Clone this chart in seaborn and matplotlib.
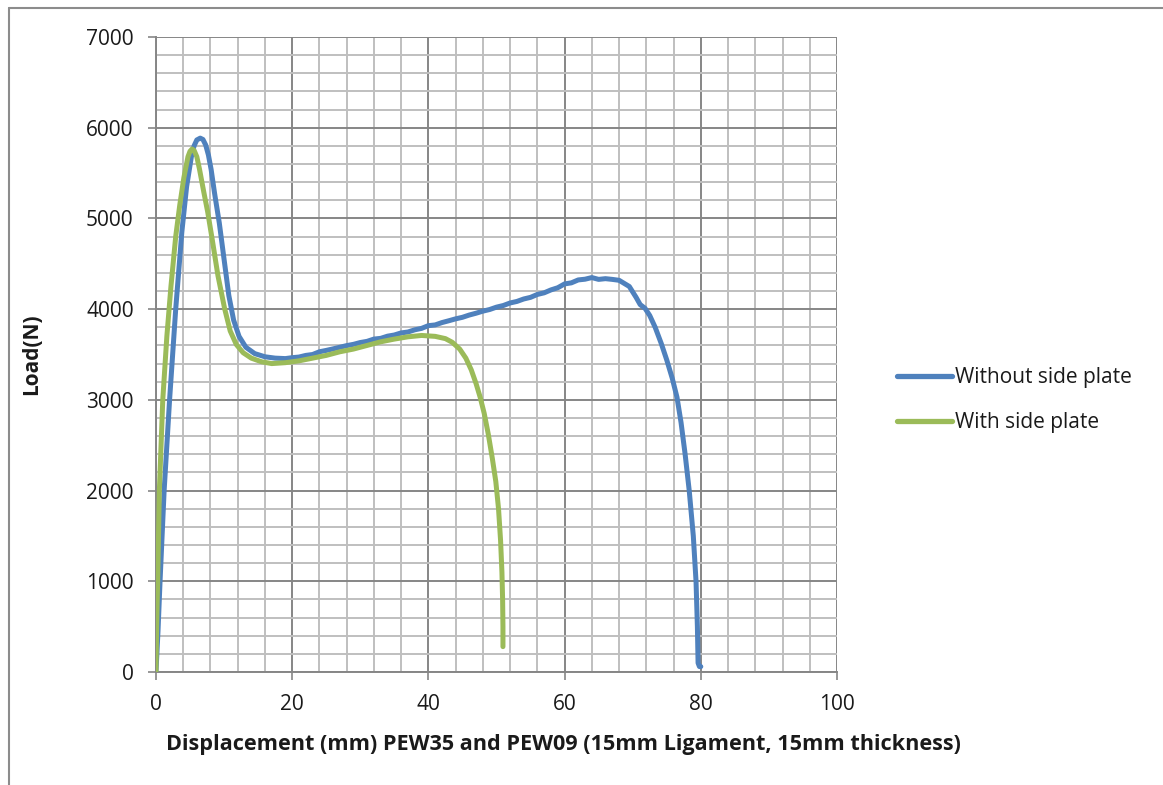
import numpy as np
import pandas as pd
import matplotlib
matplotlib.use("Agg")
import matplotlib.pyplot as plt
from matplotlib.ticker import MultipleLocator
from matplotlib.lines import Line2D
import seaborn as sns

# Load-displacement records for the two test configurations
series_names = ["Without side plate", "With side plate"]

disp_without = [
    0.0, 0.3, 0.6, 1.2, 2.0, 2.9, 3.8, 4.5, 5.2, 5.6, 6.0, 6.5, 6.9, 7.3, 7.7, 8.1,
    8.6, 9.3, 10.0, 10.7, 11.4, 12.2, 13.2, 14.5, 16.0, 17.5,
    19, 20, 21, 22, 23, 24, 25, 26, 27, 28, 29, 30, 31, 32, 33, 34, 35,
    36, 37, 38, 39, 40, 41, 42, 43, 44, 45, 46, 47, 48, 49, 50, 51, 52,
    53, 54, 55, 56, 57, 58, 59, 60, 61, 62, 63, 64, 65, 66, 67, 68,
    69.5, 70.5, 71.1, 71.8, 72.5, 73.3, 74.2, 75.0, 75.8, 76.5, 77.1,
    77.7, 78.3, 78.9, 79.3, 79.5, 79.6, 79.8, 80.0,
]
load_without = [
    0, 450, 1000, 2000, 3000, 4000, 4850, 5350, 5680, 5800, 5865, 5885, 5870, 5810, 5700, 5540,
    5280, 4950, 4550, 4150, 3880, 3700, 3580, 3510, 3475, 3460,
    3455, 3465, 3472, 3490, 3500, 3530, 3545, 3562, 3580, 3598, 3612, 3632, 3645, 3670, 3678, 3702, 3715,
    3738, 3748, 3772, 3788, 3818, 3826, 3852, 3872, 3893, 3910, 3935, 3955, 3978, 3996, 4022, 4040, 4068,
    4085, 4112, 4130, 4162, 4180, 4212, 4236, 4278, 4290, 4322, 4330, 4348, 4328, 4336, 4328, 4318,
    4250, 4130, 4050, 4010, 3930, 3800, 3620, 3440, 3240, 3030, 2750,
    2400, 2000, 1500, 1000, 500, 100, 60, 60,
]

disp_with = [
    0.0, 0.1, 0.25, 0.5, 1.0, 1.6, 2.2, 2.9, 3.5, 4.1, 4.7, 5.0, 5.3, 5.6, 6.0,
    6.4, 7.0, 7.6, 8.3, 9.1, 10.1, 10.9, 11.8, 12.8, 14.0, 15.5, 17.0, 19.0,
    21.0, 23.0, 25.0, 27.0, 29.0, 31.0, 33.0, 35.0, 37.0, 39.0, 41.0,
    42.5, 43.5, 44.6, 45.5, 46.3, 47.0, 47.6, 48.2, 48.8, 49.4, 49.9,
    50.3, 50.6, 50.8, 50.9, 50.95, 50.95,
]
load_with = [
    0, 500, 1000, 2000, 3000, 3700, 4250, 4800, 5150, 5450, 5680, 5740, 5765, 5750, 5680,
    5540, 5300, 5070, 4750, 4370, 4000, 3760, 3610, 3520, 3460, 3420, 3400, 3410,
    3430, 3460, 3490, 3530, 3560, 3600, 3640, 3670, 3695, 3710, 3700,
    3675, 3635, 3560, 3460, 3330, 3180, 3030, 2850, 2620, 2350, 2100,
    1800, 1450, 1100, 800, 500, 280,
]

x_ticks = [0, 20, 40, 60, 80, 100]
y_ticks = [0, 1000, 2000, 3000, 4000, 5000, 6000, 7000]
x_label = "Displacement (mm) PEW35 and PEW09 (15mm Ligament, 15mm thickness)"
y_label = "Load(N)"
colors = {"Without side plate": "#4F81BD", "With side plate": "#9BBB59"}

df = pd.concat([
    pd.DataFrame({"disp": disp_without, "load": load_without, "series": series_names[0]}),
    pd.DataFrame({"disp": disp_with, "load": load_with, "series": series_names[1]}),
], ignore_index=True)

sns.set_theme(style="white")
plt.rcParams["font.family"] = ["Open Sans", "DejaVu Sans"]

fig = plt.figure(figsize=(11.63, 7.85), dpi=100)
ax = fig.add_axes([0.1341, 0.1439, 0.5856, 0.809])

sns.lineplot(data=df, x="disp", y="load", hue="series", palette=colors,
             sort=False, estimator=None, linewidth=3.6, legend=False, ax=ax,
             solid_capstyle="round", solid_joinstyle="round", zorder=3)

ax.set_xlim(0, 100)
ax.set_ylim(0, 7000)
ax.set_xticks(x_ticks)
ax.set_yticks(y_ticks)
ax.xaxis.set_minor_locator(MultipleLocator(4))
ax.yaxis.set_minor_locator(MultipleLocator(200))
ax.grid(which="minor", color="#BFBFBF", linewidth=1.4, zorder=0)
ax.grid(which="major", color="#868686", linewidth=1.4, zorder=1)
ax.set_axisbelow(True)

for side in ["top", "right"]:
    ax.spines[side].set_visible(False)
for side in ["left", "bottom"]:
    ax.spines[side].set_color("#868686")
    ax.spines[side].set_linewidth(1.4)

ax.tick_params(axis="both", which="major", direction="out", length=6, width=1.2,
               color="#868686", labelsize=15, labelcolor="#1a1a1a", pad=10,
               bottom=True, left=True)
ax.tick_params(axis="both", which="minor", length=0)

ax.set_xlabel(x_label, fontsize=15.6, fontweight="bold", color="#1a1a1a")
ax.set_ylabel(y_label, fontsize=15, fontweight="bold", color="#1a1a1a")
ax.xaxis.set_label_coords(0.598, -0.098)
ax.yaxis.set_label_coords(-0.167, 0.5)

handles = [Line2D([], [], color=colors[n], linewidth=3.8, solid_capstyle="round")
           for n in series_names]
fig.legend(handles, series_names, loc="center left", bbox_to_anchor=(0.7555, 0.49),
           frameon=False, fontsize=15, handlelength=2.6, handletextpad=0.15,
           labelspacing=1.15, labelcolor="#1a1a1a")

# Outer chart-area frame (top and left edges)
fig.add_artist(Line2D([9 / 1163, 1.0], [1 - 8 / 785, 1 - 8 / 785],
                      transform=fig.transFigure, color="#8C8C8C", linewidth=1.5))
fig.add_artist(Line2D([9 / 1163, 9 / 1163], [0.0, 1 - 8 / 785],
                      transform=fig.transFigure, color="#8C8C8C", linewidth=1.5))

fig.savefig("out.png", dpi=100, facecolor="white")
